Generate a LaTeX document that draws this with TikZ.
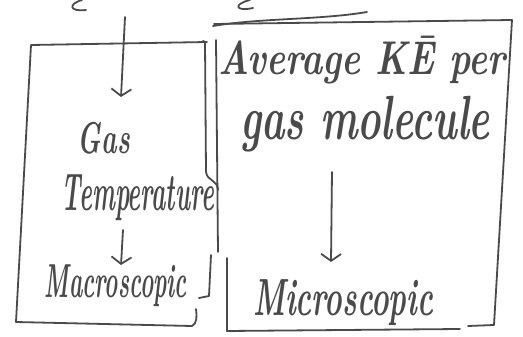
\documentclass[tikz,border=0pt]{standalone}
\usepackage{graphicx}
\usetikzlibrary{arrows.meta}
\definecolor{ink}{HTML}{4A4A4A}
\begin{document}
\begin{tikzpicture}[x=1pt,y=-1pt,
  pen/.style={draw=ink,line width=1.8pt,line cap=round,line join=round},
  hand/.style={text=ink,inner sep=0pt,font=\bfseries\itshape},
  arr/.style={pen,-{Straight Barb[length=7pt,width=20pt,line width=1.8pt]}}]
\useasboundingbox (0,0) rectangle (523,337);
% cut-off strokes at the top
\draw[pen] (82,0) .. controls (68,4) and (69,12) .. (86,10);
\draw[pen] (250,0) .. controls (233,4) and (235,12) .. (253,8);
% left box
\draw[pen] (207,42) -- (31,45) -- (16,322) -- (192,326) .. controls (197,324) and (197,316) .. (196,309);
\draw[pen] (203,41) -- (205,42) -- (206,172) .. controls (207,181) and (218,180) .. (218,190);
\draw[pen] (211,255) -- (209,296) -- (199,298);
% right box
\draw[pen] (216,40) -- (218,252);
\draw[pen] (227,258) -- (227,331) -- (460,329);
\draw[pen] (468,326) -- (494,325) -- (512,20) -- (214,24);
\draw[pen] (213,26) .. controls (260,18) and (320,20) .. (367,12);
% texts
\node[hand] (gas) at (104,138) {\resizebox*{52pt}{32pt}{Gas}};
\node[hand] (temp) at (138,198) {\resizebox*{152pt}{46pt}{Temperature}};
\node[hand] (macro) at (116,286) {\resizebox*{142pt}{42pt}{Macroscopic}};
\node[hand] (avg) at (362,60) {\resizebox*{287pt}{48pt}{Average K\=E per}};
\node[hand] (mol) at (365,124) {\resizebox*{250pt}{56pt}{gas molecule}};
\node[hand] (micro) at (343,303) {\resizebox*{180pt}{46pt}{Microscopic}};
% arrows
\coordinate (a1s) at (125,17);
\coordinate (a1e) at (121,97);
\coordinate (a2s) at (123,230);
\coordinate (a2e) at (121,265);
\coordinate (a3s) at (332,172);
\coordinate (a3e) at (331,262);
\draw[arr] (a1s) -- (a1e);
\draw[arr] (a2s) -- (a2e);
\draw[arr] (a3s) -- (a3e);
\end{tikzpicture}
\end{document}
